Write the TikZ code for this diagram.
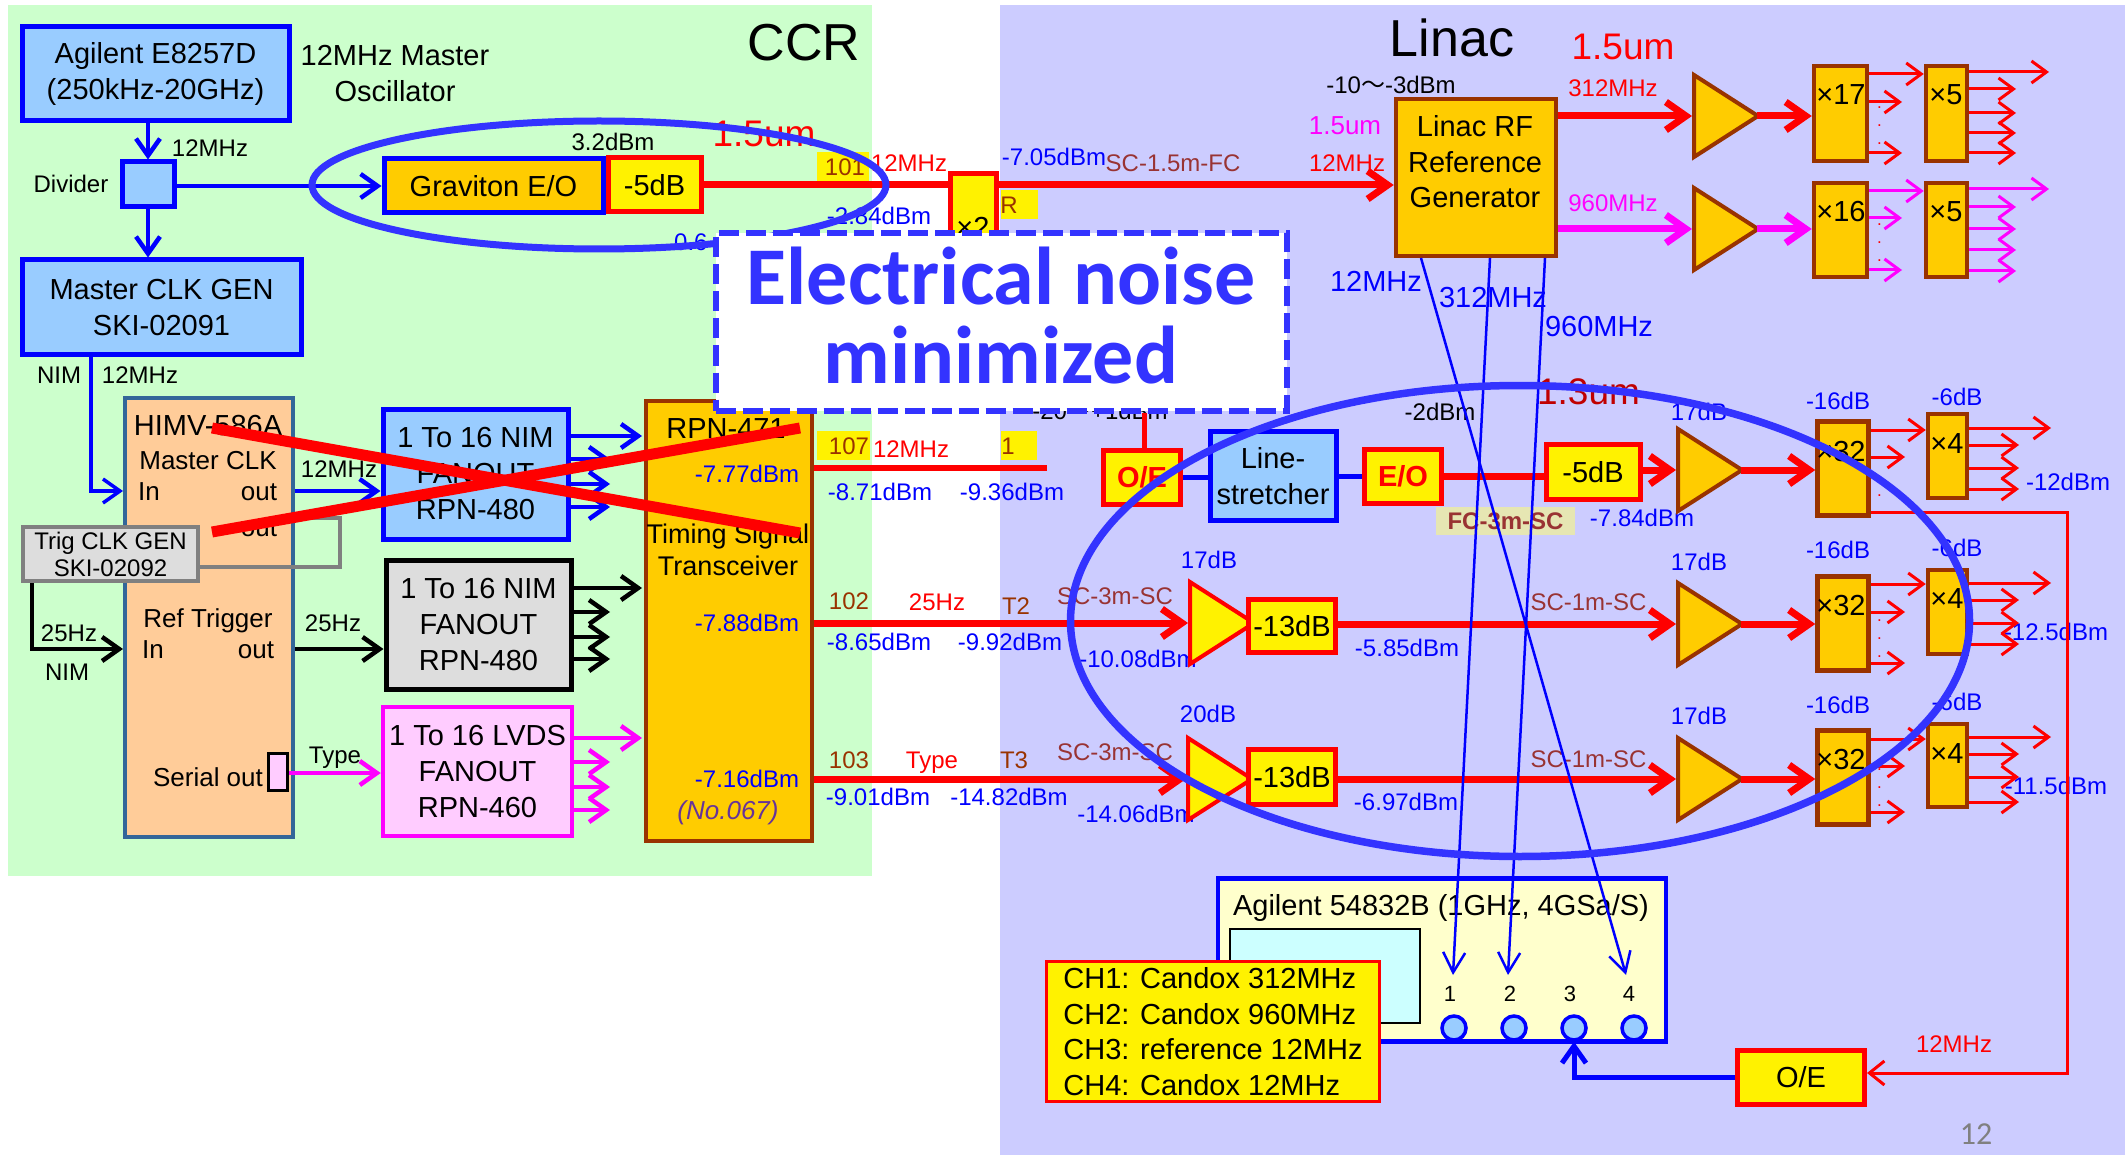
\documentclass[tikz,border=0pt]{standalone}
\usepackage{fontspec}
\setmainfont{Liberation Sans}
\newfontfamily\calibrifont{Carlito}
\newfontfamily\cjkfont{Noto Sans CJK JP}
\usetikzlibrary{arrows.meta,shapes.geometric}
\definecolor{bgGreen}{HTML}{CCFFCC}
\definecolor{bgLav}{HTML}{CCCCFF}
\definecolor{boxBlue}{HTML}{99CCFF}
\definecolor{amber}{HTML}{FFCC00}
\definecolor{rust}{HTML}{993300}
\definecolor{peach}{HTML}{FFCC99}
\definecolor{steel}{HTML}{336699}
\definecolor{pinkish}{HTML}{FFCCFF}
\definecolor{pale}{HTML}{DDDDDD}
\definecolor{brick}{HTML}{993333}
\definecolor{scopeBg}{HTML}{FFFFCC}
\definecolor{screenBg}{HTML}{CCFFFF}
\definecolor{ring}{HTML}{3333FF}
\definecolor{beige}{HTML}{E6E6B3}
\definecolor{darkred}{HTML}{C00000}
\definecolor{purple}{HTML}{663399}
\definecolor{magenta}{HTML}{FF00FF}
\tikzset{
  tA/.style={font=\fontsize{24}{29}\selectfont,inner sep=0,text height=17pt,text depth=0pt},
  tB/.style={font=\fontsize{26}{31}\selectfont,inner sep=0,text height=19pt,text depth=0pt},
  tC/.style={font=\fontsize{29}{36}\selectfont,inner sep=0,text height=21pt,text depth=0pt},
  tD/.style={font=\fontsize{37}{44}\selectfont,inner sep=0,text height=27pt,text depth=0pt},
  tE/.style={font=\fontsize{52}{60}\selectfont,inner sep=0,text height=37pt,text depth=0pt},
  dbm/.style={tA,text=blue},
  sigtxt/.style={tA,text=red},
  cabletxt/.style={tA,text=brick},
  tagtxt/.style={tA,text=rust},
  dotstxt/.style={text=red,inner sep=0,font=\fontsize{17}{18}\selectfont,align=center},
  unit/.style={draw,inner sep=0,font=\fontsize{29}{36}\selectfont,align=center},
  bluebox/.style={unit,fill=boxBlue,draw=blue,line width=5pt},
  amberbox/.style={unit,fill=amber,draw=rust,line width=4.5pt},
  yellowbox/.style={unit,fill=yellow,draw=red,line width=5pt},
  tag/.style={fill=yellow,inner sep=0},
  ampl/.style={isosceles triangle,isosceles triangle stretches,shape border rotate=0,anchor=lower side,inner sep=0,minimum width=82,minimum height=64,line width=4pt},
  amberamp/.style={ampl,draw=rust,fill=amber},
  yellowamp/.style={ampl,draw=red,fill=yellow},
  fat/.style={line width=7pt,-{Straight Barb[length=20pt,width=28pt]}},
  mid/.style={line width=4.5pt,-{Straight Barb[length=17pt,width=24pt]}},
  fine/.style={line width=3pt,-{Straight Barb[length=15pt,width=22pt]}},
  hair/.style={blue,line width=2.5pt,-{Straight Barb[length=20pt,width=22pt]}},
  port/.style={circle,fill=boxBlue,draw=blue,line width=3.5pt,inner sep=0,minimum size=24},
  chnum/.style={font=\fontsize{22}{26}\selectfont,inner sep=0},
  cross/.style={red,line width=11pt}
}
\begin{document}
\begin{tikzpicture}[x=1pt,y=-1pt]
  \useasboundingbox (0,0) rectangle (2125,1155);
  \fill [bgGreen] (8,5) rectangle (872,876);
  \fill [bgLav] (1000,5) rectangle (2125,1155);

  % control room
  \node (ccrT) at (804,42) [tE] {CCR};
  \node (agilent) at (155.5,74) [bluebox,minimum width=267,minimum height=94] {Agilent E8257D\\(250kHz-20GHz)};
  \node (oscT) at (395,74) [font=\fontsize{29}{36}\selectfont,inner sep=0,align=center] {12MHz Master\\Oscillator};
  \node (divider) at (148,184.5) [bluebox,minimum width=52,minimum height=45] {};
  \node (dividerT) at (71,184) [tA] {Divider};
  \node (divMHz) at (210,148) [tA] {12MHz};
  \node (masterclk) at (161.5,307.5) [bluebox,minimum width=279,minimum height=95] {Master CLK GEN\\SKI-02091};
  \node (graviton) at (493.5,186) [bluebox,fill=amber,minimum width=219,minimum height=54] {Graviton E/O};
  \node (attA) at (654.5,185) [yellowbox,minimum width=93,minimum height=54] {-5dB};
  \node (gravdBm) at (613,142) [tA] {3.2dBm};
  \node (nimT) at (59,375) [tA] {NIM};
  \node (nimMHz) at (140,375) [tA] {12MHz};

  \draw [mid,blue] (agilent.south -| divider) -- (divider.north);
  \draw [mid,blue] (divider.south) -- (masterclk.north -| divider);
  \draw [mid,blue] (divider.east |- graviton.west) -- (graviton.west);

  % timing modules
  \node (himv) at (209,617.5) [unit,fill=peach,draw=steel,line width=4pt,minimum width=168,minimum height=439] {};
  \node (himvT) at (208,425) [tC] {HIMV-586A};
  \node (clkT) at (208,460) [tB] {Master CLK};
  \node (inA) at (149,491) [tB] {In};
  \node (outA) at (259,491) [tB] {out};
  \node (outC) at (259,527) [tB] {out};
  \node (refT) at (208,618) [tB] {Ref Trigger};
  \node (inB) at (153,649) [tB] {In};
  \node (outB) at (256,649) [tB] {out};
  \node (serialT) at (208,777) [tB] {Serial out};
  \node (serialPort) at (278,772) [draw,fill=pinkish,line width=2.5pt,inner sep=0,minimum width=19,minimum height=37] {};

  \coordinate (loopA) at (295,518);
  \coordinate (loopB) at (340,518);
  \coordinate (loopC) at (340,567);
  \node (trig) at (110.5,554) [unit,fill=pale,draw=gray,line width=4.5pt,minimum width=175,minimum height=54,font=\fontsize{24}{27}\selectfont] {Trig CLK GEN\\SKI-02092};
  \draw [gray,line width=4.5pt] (loopA) -- (loopB) -- (loopC) -- (trig.east |- loopC);

  \coordinate (nimDrop) at (91,357);
  \coordinate (trigDrop) at (32,583);
  \draw [mid,blue,line width=3.5pt] (nimDrop) |- (himv.west |- inA);
  \draw [mid] (trigDrop) |- (himv.west |- inB);
  \node (trigHz) at (69,633) [tA] {25Hz};
  \node (trigNim) at (67,672) [tA] {NIM};

  \node (fanA) at (475.5,474) [bluebox,minimum width=185,minimum height=130] {1 To 16 NIM\\FANOUT\\RPN-480};
  \node (fanB) at (478.5,624.5) [unit,fill=pale,draw=black,line width=5pt,minimum width=185,minimum height=129] {1 To 16 NIM\\FANOUT\\RPN-480};
  \node (fanC) at (477.5,771.5) [unit,fill=pinkish,draw=magenta,line width=4.5pt,minimum width=189,minimum height=129] {1 To 16 LVDS\\FANOUT\\RPN-460};
  \node (hzA) at (339,469) [tA] {12MHz};
  \node (hzB) at (333,623) [tA] {25Hz};
  \node (typeT) at (335,755) [tA] {Type};

  \draw [mid,blue] (himv.east |- outA) -- (fanA.west |- outA);
  \draw [mid,black] (himv.east |- outB) -- (fanB.west |- outB);
  \draw [mid,magenta] (serialPort.east |- 0,773) -- (fanC.west |- 0,773);

  \node (rpn) at (729,621) [amberbox,minimum width=166,minimum height=440] {};
  \node (rpnT) at (726,428) [tC] {RPN-471};
  \node (tstT) at (728,533) [font=\fontsize{27}{32}\selectfont,inner sep=0,text height=20pt,text depth=0pt] {Timing Signal};
  \node (trxT) at (728,565) [font=\fontsize{27}{32}\selectfont,inner sep=0,text height=20pt,text depth=0pt] {Transceiver};
  \node (dbmA) at (747,474) [dbm] {-7.77dBm};
  \node (dbmB) at (747,623) [dbm] {-7.88dBm};
  \node (dbmC) at (747,779) [dbm] {-7.16dBm};
  \node (serialNo) at (728,810) [tB,text=purple,font=\fontsize{26}{31}\selectfont\itshape] {(No.067)};

  \foreach \y/\e in {436/642,459/610,484/610,507/610} {
    \coordinate (tipA\y) at (\e,\y);
    \draw [mid,blue] (fanA.east |- tipA\y) -- (tipA\y);
  }
  \foreach \y/\e in {588/642,612/610,637/610,659/610} {
    \coordinate (tipB\y) at (\e,\y);
    \draw [mid,black] (fanB.east |- tipB\y) -- (tipB\y);
  }
  \foreach \y/\e in {738/642,762/610,787/610,810/610} {
    \coordinate (tipC\y) at (\e,\y);
    \draw [mid,magenta] (fanC.east |- tipC\y) -- (tipC\y);
  }

  % links between the rooms
  \node (tag101) at (843,166.5) [tag,minimum width=52,minimum height=29] {};
  \node (t101) at (845,167) [tagtxt] {101};
  \node (mhz101) at (909,163) [sigtxt] {12MHz};
  \node (dbm101) at (879,216) [dbm] {-2.84dBm};
  \node (dbmCut) at (674,242) [dbm,anchor=west] {0.6};
  \node (umA) at (764,133) [tD,text=red] {1.5um};
  \node (doubler) at (973,227) [yellowbox,minimum width=46,minimum height=106] {×2};
  \node (tagR) at (1019.5,204.5) [tag,minimum width=37,minimum height=29] {};
  \node (tR) at (1009,205) [tagtxt] {R};
  \node (dbmSC) at (1054,157) [dbm] {-7.05dBm};
  \node (cableFC) at (1173,163) [cabletxt] {SC-1.5m-FC};

  \node (tag107) at (843.5,445.5) [tag,minimum width=53,minimum height=29] {};
  \node (t107) at (849,446) [tagtxt] {107};
  \node (mhz107) at (911,449) [sigtxt] {12MHz};
  \node (tag1) at (1019,445.5) [tag,minimum width=36,minimum height=29] {};
  \node (t1) at (1008,446) [tagtxt] {1};
  \node (dbm107a) at (880,492) [dbm] {-8.71dBm};
  \node (dbm107b) at (1012,492) [dbm] {-9.36dBm};
  \coordinate (stub107) at (1047,468);
  \draw [red,line width=6pt] (rpn.east |- stub107) -- (stub107);

  \node (t102) at (849,601) [tagtxt] {102};
  \node (hz102) at (937,602) [sigtxt] {25Hz};
  \node (t2) at (1016,606) [tagtxt] {T2};
  \node (cable102) at (1115,596) [cabletxt] {SC-3m-SC};
  \node (dbm102a) at (879,642) [dbm] {-8.65dBm};
  \node (dbm102b) at (1010,642) [dbm] {-9.92dBm};
  \node (dbm102c) at (1138,659) [dbm] {-10.08dBm};
  \node (t103) at (849,760) [tagtxt] {103};
  \node (type103) at (932,760) [sigtxt] {Type};
  \node (t3) at (1014,760) [tagtxt] {T3};
  \node (cable103) at (1115,752) [cabletxt] {SC-3m-SC};
  \node (dbm103a) at (878,797) [dbm] {-9.01dBm};
  \node (dbm103b) at (1009,797) [dbm] {-14.82dBm};
  \node (dbm103c) at (1136,814) [dbm] {-14.06dBm};

  % linac reference
  \node (linacT) at (1452,38) [tE] {Linac};
  \node (umB) at (1623,46) [tD,text=red] {1.5um};
  \node (umC) at (1345,125) [font=\fontsize{26}{31}\selectfont,inner sep=0,text=magenta,text height=19pt,text depth=0pt] {1.5um};
  \node (mhzRef) at (1347,163) [sigtxt] {12MHz};
  \node (refdBm) at (1391,85) [tA] {-10{\cjkfont 〜}-3dBm};
  \node (refgen) at (1476,177.5) [amberbox,minimum width=160,minimum height=157] {};
  \node (refT1) at (1475,126) [tC] {Linac RF};
  \node (refT2) at (1475,162) [tC] {Reference};
  \node (refT3) at (1475,197) [tC] {Generator};
  \node (mhz312) at (1613,88) [sigtxt] {312MHz};
  \node (mhz960) at (1613,203) [tA,text=magenta] {960MHz};
  \node (ampTop) at (1692,116) [amberamp] {};
  \node (ampBot) at (1692,229) [amberamp] {};
  \node (x17) at (1840.5,113.5) [amberbox,minimum width=53,minimum height=95] {};
  \node (x17T) at (1841,94) [tC] {×17};
  \node (x16) at (1840.5,230) [amberbox,minimum width=53,minimum height=94] {};
  \node (x16T) at (1841,211) [tC] {×16};
  \node (x5a) at (1946.5,113.5) [amberbox,minimum width=41,minimum height=95] {};
  \node (x5aT) at (1946,94) [tC] {×5};
  \node (x5b) at (1946.5,230) [amberbox,minimum width=41,minimum height=94] {};
  \node (x5bT) at (1946,211) [tC] {×5};
  \node (dotsA) at (1879.5,126) [dotstxt] {.\\.\\.};
  \node (dotsB) at (1879.5,243) [dotstxt] {.\\.\\.};

  \draw [red,line width=7pt] (attA.east) -- (doubler.west |- attA.east);
  \draw [fat,red] (doubler.east |- attA.east) -- (refgen.west |- attA.east);
  \draw [fat,red] (refgen.east |- ampTop.lower side) -- (ampTop.lower side);
  \draw [fat,magenta] (refgen.east |- ampBot.lower side) -- (ampBot.lower side);
  \draw [fat,red,shorten <=-6pt] (ampTop.apex) -- (x17.west |- ampTop.apex);
  \draw [fat,magenta,shorten <=-6pt] (ampBot.apex) -- (x16.west |- ampBot.apex);
  \draw [fine,red] (x17.east |- 0,74) -- (x5a.west |- 0,74);
  \draw [fine,magenta] (x16.east |- 0,191) -- (x5b.west |- 0,191);
  \foreach \y in {102,153} {
    \coordinate (tipD\y) at (1902,\y);
    \draw [fine,red] (x17.east |- tipD\y) -- (tipD\y);
  }
  \foreach \y in {218,270} {
    \coordinate (tipE\y) at (1902,\y);
    \draw [fine,magenta] (x16.east |- tipE\y) -- (tipE\y);
  }
  \foreach \y/\e in {72/2049,89/2016,113/2016,133/2016,153/2016} {
    \coordinate (tipF\y) at (\e,\y);
    \draw [fine,red] (x5a.east |- tipF\y) -- (tipF\y);
  }
  \foreach \y/\e in {189/2049,207/2016,229/2016,250/2016,271/2016} {
    \coordinate (tipG\y) at (\e,\y);
    \draw [fine,magenta] (x5b.east |- tipG\y) -- (tipG\y);
  }

  % 1.3um distribution
  \node (backdBm) at (1100,411) [tA] {-20{\cjkfont 〜}+1dBm};
  \coordinate (oeUp) at (1144,413);
  \node (oeA) at (1142,477.5) [yellowbox,text=red,minimum width=77,minimum height=54,font=\fontsize{29}{36}\selectfont\bfseries] {O/E};
  \node (stretch) at (1273,476) [bluebox,minimum width=126,minimum height=89] {Line-\\stretcher};
  \node (eoA) at (1403,476.5) [yellowbox,text=red,minimum width=77,minimum height=54,font=\fontsize{29}{36}\selectfont\bfseries] {E/O};
  \node (attB) at (1593,472) [yellowbox,minimum width=94,minimum height=55] {-5dB};
  \node (fcT) at (1505.5,521) [fill=beige,text=brick,inner sep=0,minimum width=139,minimum height=28,font=\fontsize{24}{29}\selectfont\bfseries] {FC-3m-SC};
  \node (lsdBm) at (1440,412) [tA] {-2dBm};
  \node (umD) at (1588.5,391) [tD,text=darkred] {1.3um};
  \node (dbmE) at (1642,518) [dbm] {-7.84dBm};
  \node (gainA) at (1699,412) [dbm] {17dB};
  \node (gainB) at (1699,562) [dbm] {17dB};
  \node (gainC) at (1699,716) [dbm] {17dB};
  \node (gainD) at (1209,560) [dbm] {17dB};
  \node (gainE) at (1208,714) [dbm] {20dB};
  \node (preA) at (1188,623) [yellowamp] {};
  \node (preB) at (1186,779) [yellowamp] {};
  \node (attC) at (1292,626) [yellowbox,minimum width=87,minimum height=53] {-13dB};
  \node (attD) at (1292,777) [yellowbox,minimum width=87,minimum height=55] {-13dB};
  \node (dbmF) at (1407,648) [dbm] {-5.85dBm};
  \node (dbmG) at (1406,802) [dbm] {-6.97dBm};
  \node (cableB) at (1588.5,602) [cabletxt] {SC-1m-SC};
  \node (cableC) at (1588.5,759) [cabletxt] {SC-1m-SC};
  \node (ampA) at (1676,470) [amberamp] {};
  \node (ampB) at (1676,624) [amberamp] {};
  \node (ampC) at (1676,779) [amberamp] {};
  \node (xA) at (1843,468.5) [amberbox,minimum width=51,minimum height=94] {};
  \node (xB) at (1843,623.5) [amberbox,minimum width=51,minimum height=94] {};
  \node (xC) at (1843,777.5) [amberbox,minimum width=51,minimum height=94] {};
  \node (xAT) at (1841,451) [tC] {×32};
  \node (xBT) at (1841,605) [tC] {×32};
  \node (xCT) at (1841,759) [tC] {×32};
  \node (fA) at (1947.5,456) [amberbox,minimum width=39,minimum height=84] {};
  \node (fB) at (1947.5,612) [amberbox,minimum width=39,minimum height=84] {};
  \node (fC) at (1947.5,765.5) [amberbox,minimum width=39,minimum height=83] {};
  \node (fAT) at (1947,443) [tC] {×4};
  \node (fBT) at (1947,598) [tC] {×4};
  \node (fCT) at (1947,753) [tC] {×4};
  \node (lossA) at (1838,401) [dbm] {-16dB};
  \node (lossB) at (1838,550) [dbm] {-16dB};
  \node (lossC) at (1838,705) [dbm] {-16dB};
  \node (lossD) at (1957,397) [dbm] {-6dB};
  \node (lossE) at (1957,548) [dbm] {-6dB};
  \node (lossF) at (1957,702) [dbm] {-6dB};
  \node (endA) at (2068,482) [dbm] {-12dBm};
  \node (endB) at (2056,632) [dbm] {-12.5dBm};
  \node (endC) at (2056,786) [dbm] {-11.5dBm};
  \node (dotsC) at (1879.5,487) [dotstxt] {.\\.};
  \node (dotsD) at (1879.5,639) [dotstxt] {.\\.\\.};
  \node (dotsE) at (1879.5,788) [dotstxt] {.\\.\\.};

  \draw [red,line width=5pt] (oeA.north -| oeUp) -- (oeUp);
  \draw [blue,line width=4.5pt] (oeA.east) -- (stretch.west |- oeA.east);
  \draw [blue,line width=4.5pt] (stretch.east |- eoA.west) -- (eoA.west);
  \draw [red,line width=7pt] (eoA.east) -- (attB.west |- eoA.east);
  \draw [fat,red] (attB.east |- ampA.lower side) -- (ampA.lower side);
  \draw [fat,red] (rpn.east |- preA.lower side) -- (preA.lower side);
  \draw [fat,red] (rpn.east |- preB.lower side) -- (preB.lower side);
  \draw [fat,red] (attC.east |- ampB.lower side) -- (ampB.lower side);
  \draw [fat,red] (attD.east |- ampC.lower side) -- (ampC.lower side);
  \draw [fat,red,shorten <=-6pt] (ampA.apex) -- (xA.west |- ampA.apex);
  \draw [fat,red,shorten <=-6pt] (ampB.apex) -- (xB.west |- ampB.apex);
  \draw [fat,red,shorten <=-6pt] (ampC.apex) -- (xC.west |- ampC.apex);
  \draw [fine,red] (xA.east |- 0,430) -- (fA.west |- 0,430);
  \draw [fine,red] (xB.east |- 0,584) -- (fB.west |- 0,584);
  \draw [fine,red] (xC.east |- 0,739) -- (fC.west |- 0,739);
  \foreach \y in {457,612,663,766,812} {
    \coordinate (tipH\y) at (1905,\y);
    \draw [fine,red] (xA.east |- tipH\y) -- (tipH\y);
  }
  \foreach \y/\e in {428/2051,445/2019,468/2019,489/2019,583/2051,600/2019,623/2019,644/2019,737/2051,754/2019,777/2019,802/2019} {
    \coordinate (tipJ\y) at (\e,\y);
    \draw [fine,red] (fA.east |- tipJ\y) -- (tipJ\y);
  }

  % scope
  \node (scope) at (1442,960) [unit,fill=scopeBg,draw=blue,line width=4.5pt,minimum width=448,minimum height=163] {};
  \node (scopeT) at (1441,905) [tC] {Agilent 54832B (1GHz, 4GSa/S)};
  \node (screen) at (1325,976) [fill=screenBg,draw,line width=2.5pt,inner sep=0,minimum width=190,minimum height=94] {};
  \node (chA) at (1450,994) [chnum] {1};
  \node (chB) at (1510,994) [chnum] {2};
  \node (chC) at (1570,994) [chnum] {3};
  \node (chD) at (1629,994) [chnum] {4};
  \node (portA) at (1454,1028) [port] {};
  \node (portB) at (1514,1028) [port] {};
  \node (portC) at (1574,1028) [port] {};
  \node (portD) at (1634,1028) [port] {};
  \node (oeB) at (1801,1077.5) [yellowbox,minimum width=127,minimum height=54] {O/E};
  \node (legend) at (1213,1031.5) [unit,fill=yellow,draw=red,line width=3pt,minimum width=333,minimum height=140,align=left,font=\fontsize{29}{35.5}\selectfont] {CH1: Candox 312MHz\\CH2: Candox 960MHz\\CH3: reference 12MHz\\CH4: Candox 12MHz};
  \node (oeMHz) at (1954,1044) [sigtxt] {12MHz};
  \node (pageNo) at (1976,1134) [font=\calibrifont\fontsize{32}{36}\selectfont,text=gray,inner sep=0] {12};

  \coordinate (tapC) at (2067,1073);
  \coordinate (tapB) at (2067,512);
  \draw [red,line width=3pt,-{Straight Barb[length=15pt,width=24pt]}] (xA.east |- tapB) -- (tapB) -- (tapC) -- (oeB.east |- tapC);
  \draw [mid,blue,line width=5pt] (oeB.west) -| (portC.south);

  \coordinate (refTapA) at (1490,258);
  \coordinate (refTapB) at (1545,258);
  \coordinate (refTapC) at (1421,258);
  \coordinate (tipCh1) at (1453,975);
  \coordinate (tipCh2) at (1508,975);
  \coordinate (tipCh4) at (1626,975);
  \draw [hair] (refTapA) -- (tipCh1);
  \draw [hair] (refTapB) -- (tipCh2);
  \draw [hair] (refTapC) -- (tipCh4);
  \node (mhzBlueA) at (1376,281) [tC,text=blue] {12MHz};
  \node (mhzBlueB) at (1493,297) [tC,text=blue] {312MHz};
  \node (mhzBlueC) at (1599,326) [tC,text=blue] {960MHz};

  % red-out old path
  \coordinate (crossA) at (212,428);
  \coordinate (crossB) at (800,533);
  \coordinate (crossC) at (212,532);
  \coordinate (crossD) at (800,428);
  \draw [cross] (crossA) -- (crossB);
  \draw [cross] (crossC) -- (crossD);

  % highlights
  \node (ovalA) at (599,185) [ellipse,draw=ring,line width=7pt,inner sep=0,minimum width=574,minimum height=128] {};
  \node (notice) at (1001,322) [fill=white,draw=ring,dash pattern=on 20pt off 7pt,line width=6pt,inner sep=0,minimum width=571,minimum height=177] {};
  \node (noticeT) at (1001,316) [inner sep=0,align=center,text=ring,font=\calibrifont\bfseries\fontsize{82}{79}\selectfont] {Electrical noise\\minimized};
  \node (ovalB) at (1520,621) [ellipse,draw=ring,line width=7.5pt,inner sep=0,minimum width=899,minimum height=471] {};
\end{tikzpicture}
\end{document}
